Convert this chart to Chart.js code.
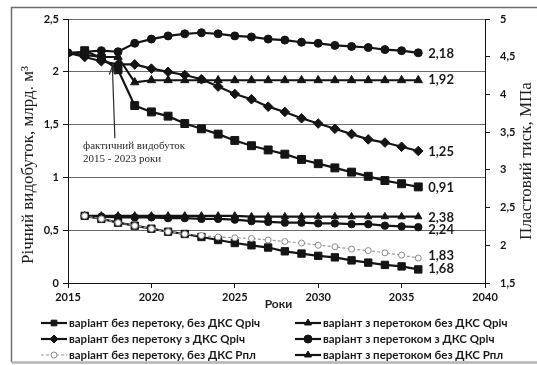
<!DOCTYPE html>
<html>
<head>
<meta charset="utf-8">
<script src="https://cdn.jsdelivr.net/npm/chart.js@4.4.1/dist/chart.umd.min.js"></script>
<style>
  html, body { margin: 0; padding: 0; background: #fff; }
  #wrap { position: relative; width: 537px; height: 365px; }
  canvas { display: block; }
</style>
</head>
<body>
<div id="wrap"><canvas id="chart" width="537" height="365"></canvas></div>
<script>
// Forecast years
const years = [2015, 2016, 2017, 2018, 2019, 2020, 2021, 2022, 2023, 2024, 2025,
               2026, 2027, 2028, 2029, 2030, 2031, 2032, 2033, 2034, 2035, 2036];

// Annual gas production, bn m3 (left axis)
const qNoFlowNoDks = [null, 2.20, 2.13, 2.02, 1.68, 1.62, 1.58, 1.51, 1.46, 1.41, 1.35,
                      1.30, 1.26, 1.22, 1.17, 1.13, 1.09, 1.05, 1.01, 0.97, 0.94, 0.91];
const qNoFlowDks   = [2.18, 2.14, 2.10, 2.07, 2.07, 2.03, 2.00, 1.97, 1.93, 1.86, 1.79,
                      1.74, 1.67, 1.62, 1.56, 1.51, 1.46, 1.41, 1.36, 1.33, 1.29, 1.25];
const qFlowNoDks   = [2.18, 2.16, 2.14, 2.14, 1.90, 1.92, 1.92, 1.92, 1.92, 1.92, 1.92,
                      1.92, 1.92, 1.92, 1.92, 1.92, 1.92, 1.92, 1.92, 1.92, 1.92, 1.92];
const qFlowDks     = [2.18, 2.19, 2.20, 2.19, 2.27, 2.31, 2.34, 2.36, 2.37, 2.36, 2.34,
                      2.33, 2.31, 2.30, 2.28, 2.27, 2.25, 2.24, 2.23, 2.21, 2.20, 2.18];

// Reservoir pressure, MPa (right axis)
const pNoFlowNoDks = [null, 2.39, 2.35, 2.30, 2.26, 2.22, 2.18, 2.15, 2.13, 2.11, 2.10,
                      2.09, 2.07, 2.05, 2.03, 2.00, 1.98, 1.95, 1.93, 1.90, 1.87, 1.83];
const pNoFlowDks   = [null, 2.39, 2.35, 2.30, 2.26, 2.22, 2.18, 2.15, 2.11, 2.07, 2.03,
                      2.00, 1.97, 1.92, 1.89, 1.86, 1.84, 1.80, 1.77, 1.74, 1.72, 1.68];
const pFlowNoDks   = [null, 2.39, 2.39, 2.39, 2.39, 2.39, 2.39, 2.39, 2.39, 2.39, 2.39,
                      2.38, 2.38, 2.38, 2.38, 2.38, 2.38, 2.38, 2.38, 2.38, 2.38, 2.38];
const pFlowDks     = [null, 2.39, 2.38, 2.37, 2.37, 2.37, 2.36, 2.36, 2.35, 2.35, 2.34,
                      2.32, 2.31, 2.30, 2.30, 2.29, 2.29, 2.28, 2.28, 2.26, 2.25, 2.24];

// Axis tick labels
const xTickLabels     = ['2015', '2020', '2025', '2030', '2035', '2040'];
const leftTickLabels  = ['0', '0,5', '1', '1,5', '2', '2,5'];
const rightTickLabels = ['1,5', '2', '2,5', '3', '3,5', '4', '4,5', '5'];

// Series names
const seriesNames = [
  'варіант без перетоку, без ДКС Qріч',
  'варіант з перетоком без ДКС Qріч',
  'варіант без перетоку з ДКС Qріч',
  'варіант з перетоком з ДКС Qріч',
  'варіант без перетоку, без ДКС Рпл',
  'варіант з перетоком без ДКС Рпл',
  'варіант без перетоку з ДКС Рпл',
  'варіант з перетоком з ДКС Рпл'
];

const toPoints = (arr) => years.map((yr, i) => ({ x: yr, y: arr[i] }));

const INK = '#141414';
const TICK_FONT = { family: 'Lato', weight: 'bold', size: 11 };

function solid(label, values, axis, style, radius, extra) {
  return Object.assign({
    label: label,
    data: toPoints(values),
    yAxisID: axis,
    borderColor: INK,
    backgroundColor: INK,
    borderWidth: 2.2,
    pointStyle: style,
    pointRadius: radius,
    pointBorderWidth: 1,
    pointBackgroundColor: INK,
    pointBorderColor: INK,
    tension: 0
  }, extra || {});
}

const datasets = [
  solid(seriesNames[0], qNoFlowNoDks, 'y', 'rect', 5.6),
  solid(seriesNames[1], qFlowNoDks, 'y', 'triangle', 4.8),
  solid(seriesNames[2], qNoFlowDks, 'y', 'rectRot', 4.8),
  solid(seriesNames[3], qFlowDks, 'y', 'circle', 4),
  {
    label: seriesNames[4],
    data: toPoints(pNoFlowNoDks),
    yAxisID: 'y1',
    borderColor: '#9a9a9a',
    backgroundColor: '#ffffff',
    borderWidth: 1.2,
    borderDash: [3, 2],
    pointStyle: 'circle',
    pointRadius: 3,
    pointBorderWidth: 1,
    pointBackgroundColor: '#ffffff',
    pointBorderColor: '#8a8a8a',
    tension: 0
  },
  solid(seriesNames[5], pFlowNoDks, 'y1', 'triangle', 4.2),
  solid(seriesNames[6], pNoFlowDks, 'y1', 'rect', 5.2),
  solid(seriesNames[7], pFlowDks, 'y1', 'circle', 3.7)
];

// Value labels at the last point of each series: [dataset index, dx, dy]
const endLabelOffsets = [[0, 10, 1], [1, 10, 0], [2, 10, 1], [3, 10, 1],
                         [4, 10, -2], [5, 10, 1], [6, 10, -1], [7, 10, 3]];

// Legend layout: [dataset index, column, row]
const legendCells = [[0, 0, 0], [1, 1, 0], [2, 0, 1], [3, 1, 1], [4, 0, 2], [5, 1, 2]];

const fmt = (v) => v.toFixed(2).replace('.', ',');

function drawMarker(ctx, ds, x, y, r) {
  ctx.save();
  ctx.fillStyle = ds.pointBackgroundColor;
  ctx.strokeStyle = ds.pointBorderColor;
  ctx.lineWidth = ds.pointBorderWidth;
  Chart.helpers.drawPoint(ctx, { pointStyle: ds.pointStyle, radius: r, rotation: 0, borderWidth: ds.pointBorderWidth }, x, y);
  ctx.restore();
}

const decor = {
  id: 'decor',
  beforeDraw(chart) {
    const ctx = chart.ctx;
    ctx.save();
    ctx.fillStyle = '#ffffff';
    ctx.fillRect(0, 0, chart.width, chart.height);
    ctx.restore();
  },
  afterDraw(chart) {
    const ctx = chart.ctx;
    const area = chart.chartArea;
    const sx = chart.scales.x, sy = chart.scales.y;

    ctx.save();
    // outer frame
    ctx.strokeStyle = '#6e6e6e';
    ctx.lineWidth = 1.5;
    ctx.beginPath();
    ctx.moveTo(chart.width + 2, 7.5);
    ctx.lineTo(11.5, 7.5);
    ctx.lineTo(11.5, 362);
    ctx.stroke();
    ctx.strokeStyle = '#b4b4b4';
    ctx.lineWidth = 2.5;
    ctx.beginPath();
    ctx.moveTo(11.5, 362.5);
    ctx.lineTo(chart.width + 2, 362.5);
    ctx.stroke();

    // axis titles
    ctx.fillStyle = '#1e1e1e';
    ctx.font = '17px "Liberation Serif", "DejaVu Serif", serif';
    ctx.textAlign = 'center';
    ctx.textBaseline = 'middle';
    ctx.save();
    ctx.translate(29, (area.top + area.bottom) / 2 + 14);
    ctx.rotate(-Math.PI / 2);
    ctx.fillText('Річний видобуток, млрд. м³', 0, 0);
    ctx.restore();
    ctx.save();
    ctx.translate(527, (area.top + area.bottom) / 2 + 10);
    ctx.rotate(-Math.PI / 2);
    ctx.fillText('Пластовий тиск, МПа', 0, 0);
    ctx.restore();

    ctx.font = 'bold 12px Lato, "Liberation Sans", sans-serif';
    ctx.fillText('Роки', (area.left + area.right) / 2 + 2, area.bottom + 21);

    // note with arrow on the production history
    const ax = sx.getPixelForValue(2017.75);
    const aTop = sy.getPixelForValue(2.05);
    const aBot = sy.getPixelForValue(1.37);
    ctx.strokeStyle = '#2a2a2a';
    ctx.lineWidth = 1.2;
    ctx.beginPath();
    ctx.moveTo(ax + 1, aBot);
    ctx.lineTo(ax - 1.5, aTop);
    ctx.stroke();
    ctx.beginPath();
    ctx.moveTo(ax - 4.5, aTop + 8);
    ctx.lineTo(ax - 1.5, aTop);
    ctx.lineTo(ax + 1.5, aTop + 8);
    ctx.stroke();
    ctx.font = '11px "Liberation Serif", "DejaVu Serif", serif';
    ctx.textAlign = 'left';
    ctx.fillStyle = '#2a2a2a';
    ctx.fillText('фактичний видобуток', sx.getPixelForValue(2015.9), aBot + 8);
    ctx.fillText('2015 - 2023 роки', sx.getPixelForValue(2015.9), aBot + 21);

    // value labels at series ends
    ctx.font = 'bold 13px Lato, "Liberation Sans", sans-serif';
    ctx.fillStyle = '#1a1a1a';
    endLabelOffsets.forEach(([i, dx, dy]) => {
      const ds = chart.data.datasets[i];
      const pts = chart.getDatasetMeta(i).data;
      const last = pts[pts.length - 1];
      const v = ds.data[ds.data.length - 1].y;
      ctx.fillText(fmt(v), last.x + dx, last.y + dy);
    });

    // legend
    const colX = [41, 295];
    const rowY = [323, 339, 355];
    ctx.font = 'bold 11.5px Lato, "Liberation Sans", sans-serif';
    legendCells.forEach(([i, c, r]) => {
      const ds = chart.data.datasets[i];
      const x0 = colX[c], y0 = rowY[r];
      ctx.save();
      ctx.strokeStyle = ds.borderColor;
      ctx.lineWidth = ds.borderWidth;
      ctx.setLineDash(ds.borderDash || []);
      ctx.beginPath();
      ctx.moveTo(x0, y0);
      ctx.lineTo(x0 + 26, y0);
      ctx.stroke();
      ctx.restore();
      drawMarker(ctx, ds, x0 + 13, y0, Math.min(ds.pointRadius, 4));
      ctx.fillStyle = '#1a1a1a';
      ctx.textAlign = 'left';
      ctx.fillText(ds.label, x0 + 28, y0);
    });
    ctx.restore();
  }
};

new Chart(document.getElementById('chart'), {
  type: 'line',
  data: { datasets: datasets },
  options: {
    responsive: false,
    animation: false,
    devicePixelRatio: 1,
    layout: { padding: { top: 19, left: 0, right: 0, bottom: 0 } },
    plugins: { legend: { display: false }, tooltip: { enabled: false } },
    scales: {
      x: {
        type: 'linear',
        min: 2015, max: 2040,
        ticks: {
          stepSize: 5,
          color: INK,
          font: TICK_FONT,
          padding: 3,
          maxRotation: 0,
          callback: (v, i) => xTickLabels[i]
        },
        grid: { drawOnChartArea: false, drawTicks: true, tickLength: 5, tickColor: INK },
        border: { color: INK, width: 1 },
        afterFit: (s) => { s.height = 82; }
      },
      y: {
        position: 'left',
        min: 0, max: 2.5,
        ticks: {
          stepSize: 0.5,
          color: INK,
          font: TICK_FONT,
          padding: 4,
          callback: (v, i) => leftTickLabels[i]
        },
        grid: { color: '#6a6a6a', lineWidth: 1, tickColor: INK, tickLength: 5 },
        border: { color: INK, width: 1 },
        afterFit: (s) => { s.width = 68; }
      },
      y1: {
        position: 'right',
        min: 1.5, max: 5,
        ticks: {
          stepSize: 0.5,
          color: INK,
          font: TICK_FONT,
          padding: 10,
          callback: (v, i) => rightTickLabels[i]
        },
        grid: { drawOnChartArea: false, tickColor: INK, tickLength: 5 },
        border: { color: INK, width: 1 },
        afterFit: (s) => { s.width = 52; }
      }
    }
  },
  plugins: [decor]
});
</script>
</body>
</html>
